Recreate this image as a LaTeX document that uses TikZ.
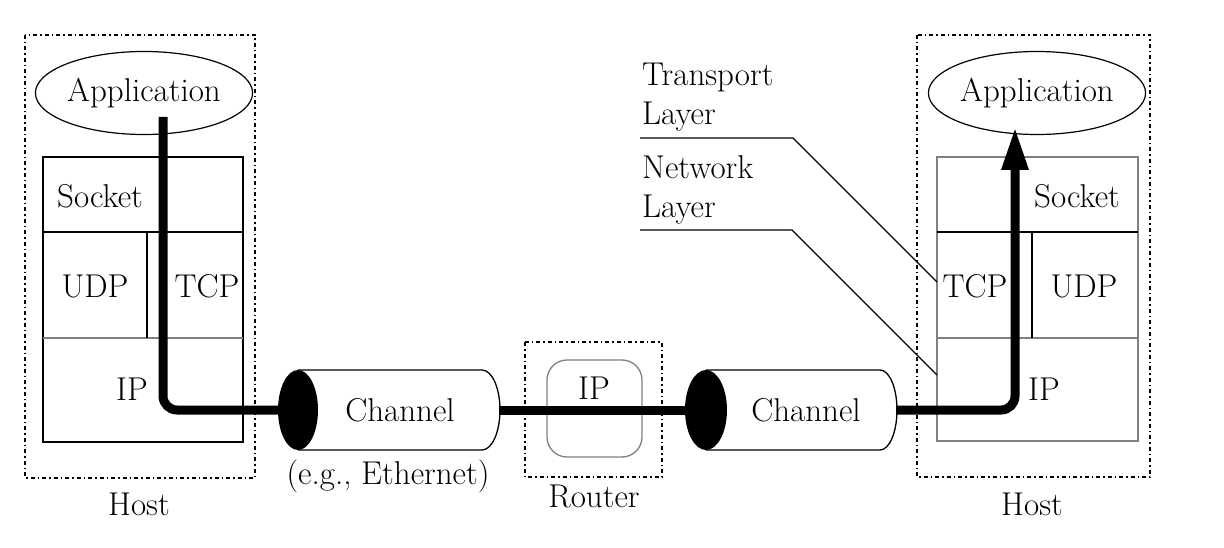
\documentclass[tikz,border=0pt]{standalone}
\usepackage{fontspec}
\usepackage{tikz}
\usetikzlibrary{shapes.geometric, arrows.meta}
\tikzset{hostbox/.style = {draw, line width=1.7pt, dash pattern=on 4pt off 3pt on 1.5pt off 3pt}}
\tikzset{appnode/.style = {draw, ellipse, line width=1.2pt, minimum width=207pt, minimum height=83pt, inner sep=0pt}}
\tikzset{stackline/.style = {line width=1.5pt}}
\tikzset{pipe/.style = {line width=9pt, rounded corners=14pt}}
\tikzset{leader/.style = {line width=1.1pt}}
\tikzset{lbl/.style = {inner sep=0pt}}

\begin{document}
\begin{tikzpicture}[x=1pt, y=-1pt, font=\fontsize{33}{39}\selectfont]
    \useasboundingbox (0,0) rectangle (1224,548);

    % left host
    \draw[hostbox] (25,35) rectangle (255,478);
    \node[appnode] (appL) at (144,93) {Application};
    \draw[stackline] (43,157) rectangle (243,442);
    \draw[stackline] (43,232) -- (243,232);
    \draw[stackline, gray] (43,338) -- (243,338);
    \draw[stackline] (147,232) -- (147,338);
    \node[lbl] (sockL) at (100,196) {Socket};
    \node[lbl] (udpL)  at (95,286)  {UDP};
    \node[lbl] (tcpL)  at (207,286) {TCP};
    \node[lbl] (ipL)   at (132,389) {IP};
    \node[lbl] (hostL) at (139,504) {Host};

    % first channel
    \draw[line width=1.3pt] (298,370) -- (482,370) arc[start angle=-90, end angle=90, x radius=18, y radius=40] -- (298,450);
    \fill (298,410) ellipse [x radius=20, y radius=40];
    \node[lbl] (chanA) at (400,410) {Channel};
    \node[lbl] (ethA)  at (388,476) {(e.g., Ethernet)};

    % router
    \draw[hostbox] (525,342) rectangle (662,477);
    \draw[line width=1.3pt, gray, rounded corners=20pt] (547,360) rectangle (642,457);
    \node[lbl] (ipR)    at (594,388) {IP};
    \node[lbl] (router) at (594,496) {Router};

    % second channel
    \draw[line width=1.3pt] (706,370) -- (880,370) arc[start angle=-90, end angle=90, x radius=17, y radius=40] -- (706,450);
    \fill (706,410) ellipse [x radius=21, y radius=40];
    \node[lbl] (chanB) at (806,410) {Channel};

    % right host
    \draw[hostbox] (917,35) rectangle (1150,477);
    \node[appnode, minimum width=205pt] (appR) at (1037,93) {Application};
    \draw[stackline, gray, line width=2pt] (937,157) rectangle (1138,441);
    \draw[stackline] (937,232) -- (1138,232);
    \draw[stackline, gray] (937,338) -- (1138,338);
    \draw[stackline] (1032,232) -- (1032,338);
    \node[lbl] (sockR) at (1077,196) {Socket};
    \node[lbl] (tcpR)  at (975,286)  {TCP};
    \node[lbl] (udpR)  at (1084,286) {UDP};
    \node[lbl] (ipRt)  at (1044,389) {IP};
    \node[lbl] (hostR) at (1032,504) {Host};

    % layer labels
    \node[lbl, anchor=north west, align=left] (trans) at (642,63)  {Transport\\Layer};
    \node[lbl, anchor=north west, align=left] (netw)  at (642,155) {Network\\Layer};
    \coordinate (transEnd) at (937,282);
    \coordinate (netwEnd)  at (937,375);
    \draw[leader] (640,138) -- (793,138) -- (transEnd);
    \draw[leader] (640,230) -- (792,230) -- (netwEnd);

    % data path
    \coordinate (downL) at (163,117);
    \coordinate (capA)  at (290,410);
    \coordinate (endA)  at (499,410);
    \coordinate (capB)  at (700,410);
    \coordinate (endB)  at (896,410);
    \coordinate (tipR)  at (1015,127);
    \draw[pipe] (downL) |- (capA);
    \draw[pipe] (endA) -- (capB);
    \draw[pipe, -{Triangle[length=43pt, width=25pt]}] (endB) -| (tipR);

\end{tikzpicture}
\end{document}
